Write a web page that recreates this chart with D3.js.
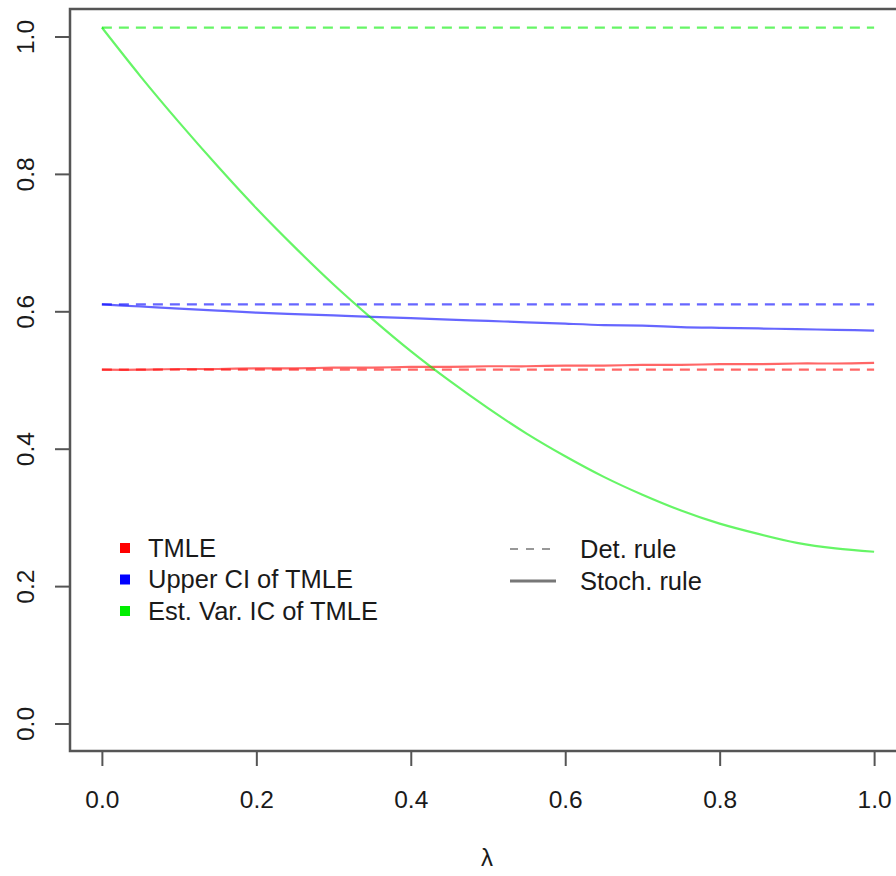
<!DOCTYPE html>
<html>
<head>
<meta charset="utf-8">
<script src="https://cdn.jsdelivr.net/npm/d3@7"></script>
<style>
  body { margin: 0; background: #fff; }
  svg text { font-family: "Liberation Sans", Arial, Helvetica, sans-serif; fill: #1a1a1a; }
</style>
</head>
<body>
<svg id="chart"></svg>
<script>
// values
const lambda = [0, 0.05, 0.1, 0.15, 0.2, 0.25, 0.3, 0.35, 0.4, 0.45, 0.5,
  0.55, 0.6, 0.65, 0.7, 0.75, 0.8, 0.85, 0.9, 0.95, 1];
const tmleStoch = [0.515, 0.515, 0.516, 0.516, 0.517, 0.517, 0.518, 0.518, 0.519, 0.519, 0.520,
  0.520, 0.521, 0.521, 0.522, 0.522, 0.523, 0.523, 0.524, 0.524, 0.525];
const upperStoch = [0.610, 0.607, 0.604, 0.601, 0.598, 0.596, 0.594, 0.592, 0.590, 0.588, 0.586,
  0.584, 0.582, 0.580, 0.579, 0.577, 0.576, 0.575, 0.574, 0.573, 0.572];
const varStoch = [1.013, 0.942, 0.875, 0.811, 0.750, 0.693, 0.639, 0.589, 0.542, 0.499, 0.459,
  0.422, 0.389, 0.359, 0.333, 0.310, 0.291, 0.276, 0.263, 0.255, 0.250];
const tmleDet = 0.515;
const upperDet = 0.610;
const varDet = 1.013;

const seriesNames = ['TMLE', 'Upper CI of TMLE', 'Est. Var. IC of TMLE'];
const seriesColors = ['#ff0000', '#0000ff', '#00ee00'];
const ruleNames = ['Det. rule', 'Stoch. rule'];
const xTicks = [0, 0.2, 0.4, 0.6, 0.8, 1];
const yTicks = [0, 0.2, 0.4, 0.6, 0.8, 1];

const W = 896, H = 876;
const svg = d3.select('#chart').attr('width', W).attr('height', H);

const x = d3.scaleLinear().domain([-0.04, 1.04]).range([71, 905]);
const y = d3.scaleLinear().domain([-0.04, 1.04]).range([751, 9]);

const axisColor = '#555';

// x axis
const gx = svg.append('g')
  .attr('transform', 'translate(0,751)')
  .call(d3.axisBottom(x).tickValues(xTicks).tickSize(15).tickPadding(25)
    .tickFormat(d3.format('.1f')));
gx.select('.domain').remove();
gx.selectAll('line').attr('stroke', axisColor).attr('stroke-width', 2);
gx.selectAll('text').attr('font-size', 24.5).style('fill', '#1a1a1a');

// y axis
const gy = svg.append('g')
  .attr('transform', 'translate(70,0)')
  .call(d3.axisLeft(y).tickValues(yTicks).tickSize(15)
    .tickFormat(d3.format('.1f')));
gy.select('.domain').remove();
gy.selectAll('line').attr('stroke', axisColor).attr('stroke-width', 2);
gy.selectAll('text')
  .attr('font-size', 24.5)
  .attr('text-anchor', 'middle')
  .attr('transform', 'rotate(-90)')
  .attr('x', 0)
  .attr('y', -36.5)
  .attr('dy', null)
  .style('fill', '#1a1a1a');

// plot box
svg.append('rect')
  .attr('x', 70).attr('y', 9)
  .attr('width', 900).attr('height', 742)
  .attr('fill', 'none')
  .attr('stroke', axisColor)
  .attr('stroke-width', 2.5);

svg.append('text')
  .attr('x', 487).attr('y', 866)
  .attr('text-anchor', 'middle')
  .attr('font-size', 24)
  .text('λ');

const line = d3.line()
  .x(function (d, i) { return x(lambda[i]); })
  .y(function (d) { return y(d); })
  .curve(d3.curveNatural);

const detValues = [tmleDet, upperDet, varDet];
const stochValues = [tmleStoch, upperStoch, varStoch];

detValues.forEach(function (v, k) {
  svg.append('line')
    .attr('x1', x(0)).attr('x2', x(1))
    .attr('y1', y(v)).attr('y2', y(v))
    .attr('stroke', seriesColors[k])
    .attr('stroke-opacity', 0.6)
    .attr('stroke-width', 2.2)
    .attr('stroke-dasharray', '10,7');
});

stochValues.forEach(function (vals, k) {
  svg.append('path')
    .attr('d', line(vals))
    .attr('fill', 'none')
    .attr('stroke', seriesColors[k])
    .attr('stroke-opacity', 0.6)
    .attr('stroke-width', 2.2);
});

// legend: series
const leg1 = svg.append('g');
seriesNames.forEach(function (name, i) {
  const cy = 548 + i * 31.5;
  leg1.append('rect')
    .attr('x', 120).attr('y', cy - 5)
    .attr('width', 10).attr('height', 10)
    .attr('fill', seriesColors[i]);
  leg1.append('text')
    .attr('x', 148).attr('y', cy + 8.5)
    .attr('font-size', 25.5)
    .text(name);
});

// legend: rules
const leg2 = svg.append('g');
ruleNames.forEach(function (name, i) {
  const cy = 549 + i * 32;
  leg2.append('line')
    .attr('x1', 510).attr('x2', 556)
    .attr('y1', cy).attr('y2', cy)
    .attr('stroke', '#777')
    .attr('stroke-width', i === 0 ? 1.6 : 3)
    .attr('stroke-dasharray', i === 0 ? '8,8' : null);
  leg2.append('text')
    .attr('x', 580).attr('y', cy + 8.5)
    .attr('font-size', 25.5)
    .text(name);
});
</script>
</body>
</html>
